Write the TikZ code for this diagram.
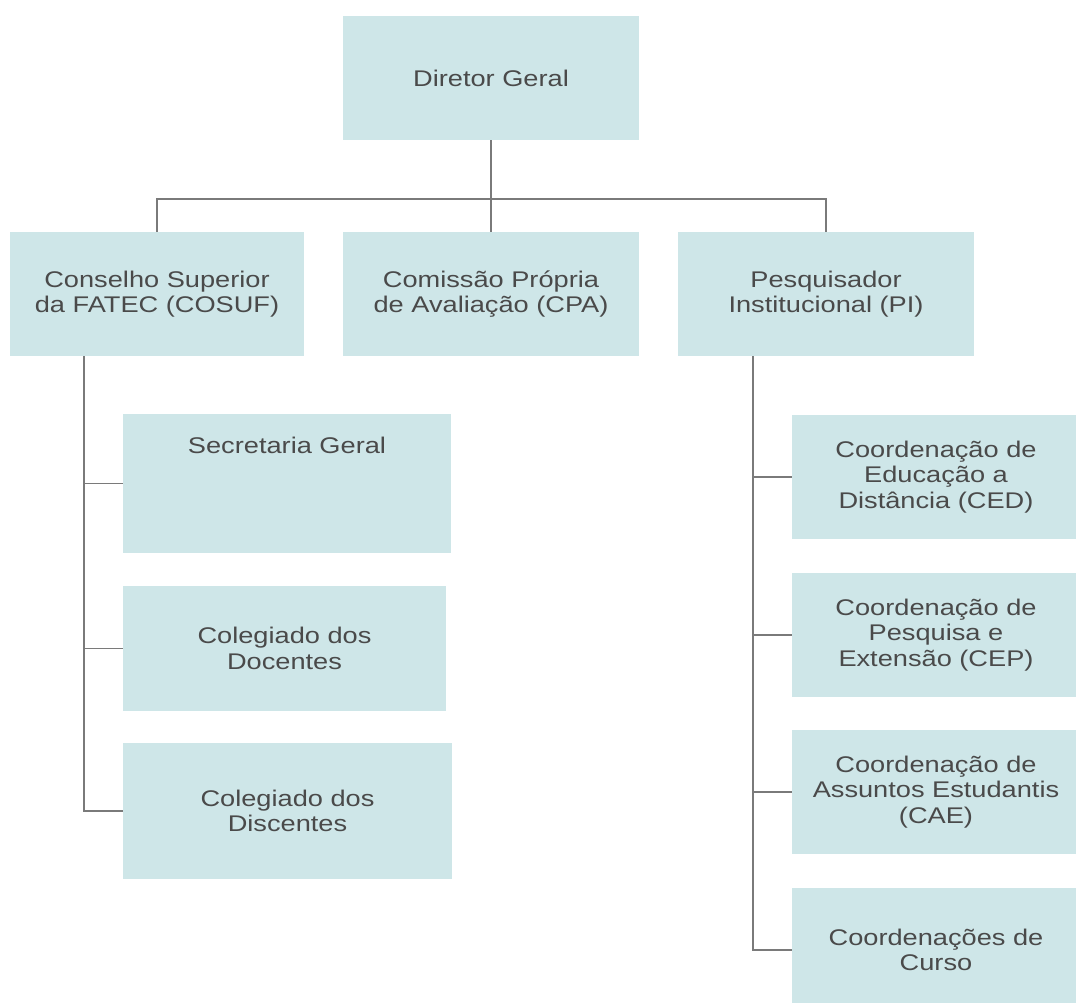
\documentclass[tikz,border=0pt]{standalone}
\usepackage{fontspec}
\setmainfont{Liberation Sans}[FakeStretch=1.2]
\definecolor{boxfill}{HTML}{CEE6E8}
\definecolor{txtcol}{HTML}{4A4A4A}
\definecolor{linecol}{HTML}{7A7A7A}
\begin{document}
\begin{tikzpicture}[x=0.75pt,y=-0.75pt,
  orgbox/.style={fill=boxfill, draw=none, inner sep=0pt, text=txtcol, align=center,
    font=\fontsize{17pt}{19.1pt}\selectfont},
  boxtext/.style={inner sep=0pt, text=txtcol, align=center, font=\fontsize{17pt}{19.1pt}\selectfont},
  conn/.style={draw=linecol, line width=1.4pt}]
\useasboundingbox (0,0) rectangle (1076,1003);
% top level
\node[orgbox, minimum width=296*0.75pt, minimum height=124*0.75pt] (dir) at (491,78) {Diretor Geral};
% second level
\node[orgbox, minimum width=294*0.75pt, minimum height=124*0.75pt] (cons) at (157,294) {Conselho Superior\\da FATEC (COSUF)};
\node[orgbox, minimum width=296*0.75pt, minimum height=124*0.75pt] (cpa) at (491,294) {Comissão Própria\\de Avaliação (CPA)};
\node[orgbox, minimum width=296*0.75pt, minimum height=124*0.75pt] (pi) at (826,294) {Pesquisador\\Institucional (PI)};
% left column
\node[orgbox, minimum width=328*0.75pt, minimum height=139*0.75pt] (sec) at (287,483.5) {};
\node[boxtext] (sectxt) at ([yshift=-24pt]sec.north) {Secretaria Geral};
\node[orgbox, minimum width=323*0.75pt, minimum height=125*0.75pt] (doc) at (284.5,648.5) {Colegiado dos\\Docentes};
\node[orgbox, minimum width=329*0.75pt, minimum height=136*0.75pt] (disc) at (287.5,811) {Colegiado dos\\Discentes};
% right column
\node[orgbox, minimum width=288*0.75pt, minimum height=124*0.75pt] (ced) at (936,477) {Coordenação de\\Educação a\\Distância (CED)};
\node[orgbox, minimum width=288*0.75pt, minimum height=124*0.75pt] (cep) at (936,635) {Coordenação de\\Pesquisa e\\Extensão (CEP)};
\node[orgbox, minimum width=288*0.75pt, minimum height=124*0.75pt] (cae) at (936,792) {Coordenação de\\Assuntos Estudantis\\(CAE)};
\node[orgbox, minimum width=288*0.75pt, minimum height=124*0.75pt] (cur) at (936,950) {Coordenações de\\Curso};
% connectors
\coordinate (hbar) at (0,199);
\coordinate (ltrunk) at (84,356);
\coordinate (rtrunk) at (753,356);
\draw[conn] (dir.south) -- (cpa.north);
\draw[conn] (cons.north) -- (cons.north |- hbar) -- (pi.north |- hbar) -- (pi.north);
\draw[conn] (ltrunk) |- (disc.west);
\draw[conn] (ltrunk |- sec.west) -- (sec.west);
\draw[conn] (ltrunk |- doc.west) -- (doc.west);
\draw[conn] (rtrunk) |- (cur.west);
\draw[conn] (rtrunk |- ced.west) -- (ced.west);
\draw[conn] (rtrunk |- cep.west) -- (cep.west);
\draw[conn] (rtrunk |- cae.west) -- (cae.west);
\end{tikzpicture}
\end{document}
